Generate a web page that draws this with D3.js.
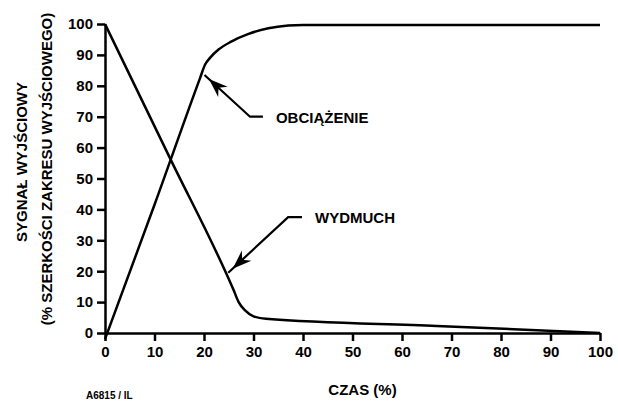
<!DOCTYPE html>
<html>
<head>
<meta charset="utf-8">
<script src="https://cdn.jsdelivr.net/npm/d3@7"></script>
<style>
  body { margin: 0; background: #fff; }
  svg text { font-family: "Liberation Sans", Arial, Helvetica, sans-serif; font-weight: bold; fill: #000; }
  .axis path, .axis line { stroke: #000; stroke-width: 2.5px; }
  .curve { fill: none; stroke: #000; stroke-width: 2.5px; }
  .pointer { fill: none; stroke: #000; stroke-width: 2.2px; }
</style>
</head>
<body>
<section></section>
<script>
// values (time %, output %)
var xTicks = [0, 10, 20, 30, 40, 50, 60, 70, 80, 90, 100];
var yTicks = [0, 10, 20, 30, 40, 50, 60, 70, 80, 90, 100];

// load curve (OBCIĄŻENIE)
var loadTime  = [0, 10, 19.2, 20.2, 21.3, 23, 25.5, 29, 33, 37, 40, 100];
var loadValue = [-2, 41.5, 82.5, 86.8, 89.2, 91.8, 94.3, 96.8, 98.6, 99.5, 99.7, 99.7];

// blow-down curve (WYDMUCH)
var blowTime  = [0, 13, 26, 27, 28.3, 30, 32.5, 67, 100];
var blowValue = [100, 57, 13.8, 10, 7.3, 5.4, 4.6, 2.3, 0];

// annotation anchors: [tip, elbow, end] in data units
var labels = ["OBCIĄŻENIE", "WYDMUCH"];
var pointerTips   = [[20.1, 83.5], [24.9, 19.5]];
var pointerElbows = [[29.3, 70], [37, 37.5]];
var pointerEnds   = [[31.9, 70], [39.8, 37.5]];

var width = 618, height = 401;
var margin = {top: 24, right: 18, bottom: 68, left: 105};

var svg = d3.select("section").append("svg")
  .attr("width", width)
  .attr("height", height);

var x = d3.scaleLinear().domain([0, 100]).range([margin.left, width - margin.right]);
var y = d3.scaleLinear().domain([0, 100]).range([height - margin.bottom, margin.top]);

// axes
svg.append("g")
  .attr("class", "axis")
  .attr("transform", "translate(0," + y(0) + ")")
  .call(d3.axisBottom(x).tickValues(xTicks).tickSize(8).tickSizeOuter(0).tickPadding(5))
  .call(function(g) { g.selectAll("text").style("font-size", "15px"); });

svg.append("g")
  .attr("class", "axis")
  .attr("transform", "translate(" + x(0) + ",0)")
  .call(d3.axisLeft(y).tickValues(yTicks).tickSize(8).tickSizeOuter(0).tickPadding(4))
  .call(function(g) { g.selectAll("text").style("font-size", "15px"); });

svg.selectAll(".axis text").attr("font-family", null);

// curves
var line = d3.line()
  .x(function(d) { return x(d[0]); })
  .y(function(d) { return y(d[1]); })
  .curve(d3.curveMonotoneX);

svg.append("path")
  .attr("class", "curve")
  .attr("d", line(d3.zip(loadTime, loadValue)));

svg.append("path")
  .attr("class", "curve")
  .attr("d", line(d3.zip(blowTime, blowValue)));

// pointers with arrow heads
labels.forEach(function(name, i) {
  var tip = [x(pointerTips[i][0]), y(pointerTips[i][1])],
      elb = [x(pointerElbows[i][0]), y(pointerElbows[i][1])],
      end = [x(pointerEnds[i][0]), y(pointerEnds[i][1])];

  svg.append("path")
    .attr("class", "pointer")
    .attr("d", "M" + tip + "L" + elb + "L" + end);

  // head sits a little back from the tip
  var dx = elb[0] - tip[0], dy = elb[1] - tip[1],
      len = Math.sqrt(dx * dx + dy * dy),
      ux = dx / len, uy = dy / len, px = -uy, py = ux;
  var hp = [tip[0] + ux * 6, tip[1] + uy * 6],
      back = 19, half = 7, notch = 13;
  var b1 = [hp[0] + ux * back + px * half, hp[1] + uy * back + py * half],
      b2 = [hp[0] + ux * back - px * half, hp[1] + uy * back - py * half],
      nt = [hp[0] + ux * notch, hp[1] + uy * notch];
  svg.append("path")
    .attr("d", "M" + hp + "L" + b1 + "L" + nt + "L" + b2 + "Z")
    .attr("fill", "#000");

  svg.append("text")
    .attr("x", end[0] + 13)
    .attr("y", end[1] + 6)
    .style("font-size", "15px")
    .text(name);
});

// axis titles
svg.append("text")
  .attr("x", (x(0) + x(100)) / 2 + 10)
  .attr("y", 395)
  .attr("text-anchor", "middle")
  .style("font-size", "15px")
  .text("CZAS (%)");

svg.append("text")
  .attr("transform", "translate(27,162) rotate(-90)")
  .attr("text-anchor", "middle")
  .style("font-size", "15px")
  .text("SYGNAŁ WYJŚCIOWY");

svg.append("text")
  .attr("transform", "translate(52,169) rotate(-90)")
  .attr("text-anchor", "middle")
  .style("font-size", "15px")
  .text("(% SZERKOŚCI ZAKRESU WYJŚCIOWEGO)");

svg.append("text")
  .attr("x", 86)
  .attr("y", 399)
  .style("font-size", "10px")
  .text("A6815 / IL");
</script>
</body>
</html>
